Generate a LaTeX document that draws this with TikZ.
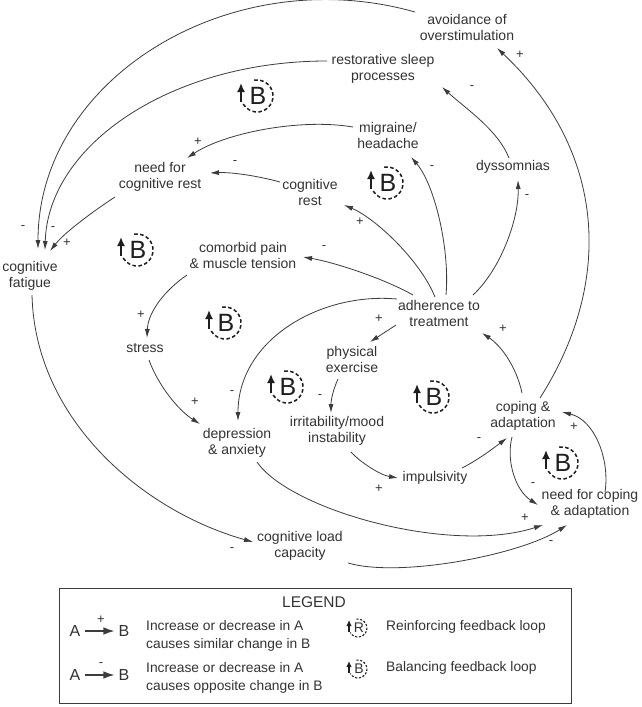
\documentclass[tikz,border=0pt]{standalone}
\usepackage{fontspec}
\setmainfont{Liberation Sans}
\usetikzlibrary{arrows.meta}
\definecolor{txt}{HTML}{333333}
\definecolor{ln}{HTML}{3C3C3C}
\definecolor{lp}{HTML}{1E1E1E}
\tikzset{
  var/.style={align=center, text=txt, font=\fontsize{14}{16}\selectfont, inner sep=1pt},
  cld/.style={draw=ln, line width=0.8pt, -{Latex[length=9pt,width=5pt]}},
  pol/.style={text=txt, font=\fontsize{13}{13}\selectfont, inner sep=0pt},
  loopdash/.style={draw=lp, line width=1.5pt, dash pattern=on 3.6pt off 2.4pt},
  looparr/.style={draw=lp, line width=1.7pt, -{Latex[length=9pt,width=8pt]}},
  sloopdash/.style={draw=lp, line width=1.1pt, dash pattern=on 2.2pt off 1.6pt},
  slooparr/.style={draw=lp, line width=1.3pt, -{Latex[length=6pt,width=5.5pt]}},
  lgtext/.style={align=left, text=txt, font=\fontsize{13.8}{18.5}\selectfont, inner sep=0pt},
  lgsym/.style={text=txt, font=\fontsize{16}{16}\selectfont, inner sep=3pt},
  lgarr/.style={draw=ln, line width=1.3pt, -{Latex[length=11pt,width=7.5pt]}, shorten >=1pt, shorten <=1pt},
}
\newcommand\bigloop[3]{%
  \draw[loopdash] (#2,#3) ++(100:16pt) arc[start angle=100,end angle=-150,radius=16pt];
  \draw[looparr] (#2-16,#3-6) -- (#2-16,#3+13);
  \node[text=lp, font=\fontsize{25}{25}\selectfont, inner sep=0pt] (#1) at (#2+1,#3) {B};
}
\newcommand\smallloop[4]{%
  \draw[sloopdash] (#2,#3) ++(100:9pt) arc[start angle=100,end angle=-150,radius=9pt];
  \draw[slooparr] (#2-9,#3-4) -- (#2-9,#3+8);
  \node[text=txt, font=\fontsize{14}{14}\selectfont, inner sep=0pt] (#1) at (#2+1,#3) {#4};
}
\begin{document}
\begin{tikzpicture}[x=1pt,y=1pt]
\useasboundingbox (0,0) rectangle (641,-707);
\fill[white] (0,0) rectangle (641,-707);

% variables
\node[var] (avoid)    at (467,-27)  {avoidance of\\overstimulation};
\node[var] (sleep)    at (383,-69)  {restorative sleep\\processes};
\node[var] (migraine) at (388,-135) {migraine/\\headache};
\node[var] (dyss)     at (513,-167) {dyssomnias};
\node[var] (needrest) at (160,-177) {need for\\cognitive rest};
\node[var] (cogrest)  at (310,-192) {cognitive\\rest};
\node[var] (fatigue)  at (30,-276)  {cognitive\\fatigue};
\node[var] (comorbid) at (243,-255) {comorbid pain\\\& muscle tension};
\node[var] (adher)    at (439,-313) {adherence to\\treatment};
\node[var] (stress)   at (145,-348) {stress};
\node[var] (phys)     at (352,-359) {physical\\exercise};
\node[var] (irrit)    at (337,-431) {irritability/mood\\instability};
\node[var] (depr)     at (237,-443) {depression\\\& anxiety};
\node[var] (coping)   at (523,-416) {coping \&\\adaptation};
\node[var] (impuls)   at (435,-478) {impulsivity};
\node[var] (needcop)  at (590,-504) {need for coping\\\& adaptation};
\node[var] (load)     at (300,-546) {cognitive load\\capacity};

% causal links
\draw[cld] ([shift={(-52,15)}]avoid.center) .. controls (231,40) and (38,-78) .. ([shift={(8,27)}]fatigue.center);
\draw[cld] ([shift={(-56,8)}]sleep.center) .. controls (171,-61) and (48,-145) .. ([shift={(15,26)}]fatigue.center);
\draw[cld] ([shift={(-45,-20)}]needrest.center) .. controls (95,-210) and (65,-232) .. ([shift={(20,25)}]fatigue.center);
\draw[cld] ([shift={(-35,8)}]migraine.center) .. controls (300,-118) and (225,-133) .. ([shift={(27,19)}]needrest.center);
\draw[cld] ([shift={(-30,10)}]cogrest.center) .. controls (258,-176) and (232,-172) .. ([shift={(50,4)}]needrest.center);
\draw[cld] ([shift={(-4,16)}]adher.center) .. controls (420,-260) and (375,-218) .. ([shift={(34,-13)}]cogrest.center);
\draw[cld] ([shift={(-26,18)}]adher.center) .. controls (383,-278) and (333,-262) .. ([shift={(60,-2)}]comorbid.center);
\draw[cld] ([shift={(7,18)}]adher.center) .. controls (450,-250) and (435,-185) .. ([shift={(23,-22)}]migraine.center);
\draw[cld] ([shift={(34,18)}]adher.center) .. controls (500,-270) and (519,-220) .. ([shift={(5,-13)}]dyss.center);
\draw[cld] ([shift={(-4,9)}]dyss.center) .. controls (498,-130) and (465,-108) .. ([shift={(59,-18)}]sleep.center);
\draw[cld] ([shift={(17,18)}]coping.center) .. controls (615,-280) and (605,-150) .. ([shift={(30,-21)}]avoid.center);
\draw[cld] ([shift={(-1,23)}]coping.center) .. controls (516,-365) and (500,-345) .. ([shift={(43,-20)}]adher.center);
\draw[cld] ([shift={(-43,-12)}]adher.center) -- ([shift={(18,17)}]phys.center);
\draw[cld] ([shift={(-14,-20)}]phys.center) .. controls (333,-390) and (331,-400) .. ([shift={(-6,18)}]irrit.center);
\draw[cld] ([shift={(14,-21)}]irrit.center) .. controls (360,-462) and (380,-475) .. ([shift={(-37,0)}]impuls.center);
\draw[cld] ([shift={(27,10)}]impuls.center) .. controls (478,-460) and (495,-447) .. ([shift={(-16,-22)}]coping.center);
\draw[cld] ([shift={(-11,-21)}]coping.center) .. controls (506,-460) and (515,-490) .. ([shift={(-52,-1)}]needcop.center);
\draw[cld] ([shift={(15,12)}]needcop.center) .. controls (610,-460) and (595,-420) .. ([shift={(39,4)}]coping.center);
\draw[cld] ([shift={(20,-19)}]depr.center) .. controls (290,-510) and (450,-555) .. ([shift={(-47,-21)}]needcop.center);
\draw[cld] ([shift={(48,-17)}]load.center) .. controls (400,-578) and (520,-555) .. ([shift={(-23,-21)}]needcop.center);
\draw[cld] ([shift={(2,-19)}]fatigue.center) .. controls (35,-420) and (143,-511) .. ([shift={(-47,4)}]load.center);
\draw[cld] ([shift={(-56,-20)}]comorbid.center) .. controls (165,-290) and (148,-312) .. ([shift={(2,10)}]stress.center);
\draw[cld] ([shift={(4,-12)}]stress.center) .. controls (158,-385) and (178,-410) .. ([shift={(-37,19)}]depr.center);
\draw[cld] ([shift={(-42,14)}]adher.center) .. controls (320,-292) and (238,-340) .. ([shift={(1,22)}]depr.center);

% polarities
\node[pol] (p1)  at (23,-228)  {-};
\node[pol] (p2)  at (53,-229)  {-};
\node[pol] (p3)  at (67,-243)  {+};
\node[pol] (p4)  at (198,-142) {+};
\node[pol] (p5)  at (235,-163) {-};
\node[pol] (p6)  at (360,-222) {+};
\node[pol] (p7)  at (324,-248) {-};
\node[pol] (p8)  at (432,-168) {-};
\node[pol] (p9)  at (527,-197) {-};
\node[pol] (p10) at (472,-88)  {-};
\node[pol] (p11) at (520,-55)  {+};
\node[pol] (p12) at (379,-319) {+};
\node[pol] (p13) at (503,-329) {+};
\node[pol] (p14) at (320,-397) {-};
\node[pol] (p15) at (379,-489) {+};
\node[pol] (p16) at (479,-440) {-};
\node[pol] (p17) at (533,-485) {-};
\node[pol] (p18) at (574,-427) {+};
\node[pol] (p19) at (525,-518) {+};
\node[pol] (p20) at (551,-543) {-};
\node[pol] (p21) at (232,-550) {-};
\node[pol] (p22) at (141,-315) {+};
\node[pol] (p23) at (195,-402) {+};
\node[pol] (p24) at (232,-393) {-};

% loop markers
\bigloop{b1}{257}{-96}
\bigloop{b2}{137}{-250}
\bigloop{b3}{387}{-183}
\bigloop{b4}{225}{-323}
\bigloop{b5}{287}{-387}
\bigloop{b6}{433}{-397}
\bigloop{b7}{562}{-463}

% legend
\draw[ln, line width=1pt] (59,-588) rectangle (571,-703);
\node[text=txt, font=\fontsize{15.5}{15.5}\selectfont, inner sep=0pt] (lgtitle) at (314,-602) {LEGEND};
\node[lgsym] (la1) at (75,-631) {A};
\node[lgsym] (lb1) at (124,-631) {B};
\draw[lgarr] (la1) -- (lb1);
\node[pol] (lp1) at (101,-620) {+};
\node[lgsym] (la2) at (75,-675) {A};
\node[lgsym] (lb2) at (124,-675) {B};
\draw[lgarr] (la2) -- (lb2);
\node[pol] (lp2) at (101,-665) {-};
\node[lgtext, anchor=west] (lt1) at (146,-636) {Increase or decrease in A\\causes similar change in B};
\node[lgtext, anchor=west] (lt2) at (146,-678) {Increase or decrease in A\\causes opposite change in B};
\smallloop{lr}{358}{-628}{R}
\smallloop{lb}{358}{-669}{B}
\node[lgtext, anchor=west] (lt3) at (386,-627) {Reinforcing feedback loop};
\node[lgtext, anchor=west] (lt4) at (386,-668) {Balancing feedback loop};
\end{tikzpicture}
\end{document}
